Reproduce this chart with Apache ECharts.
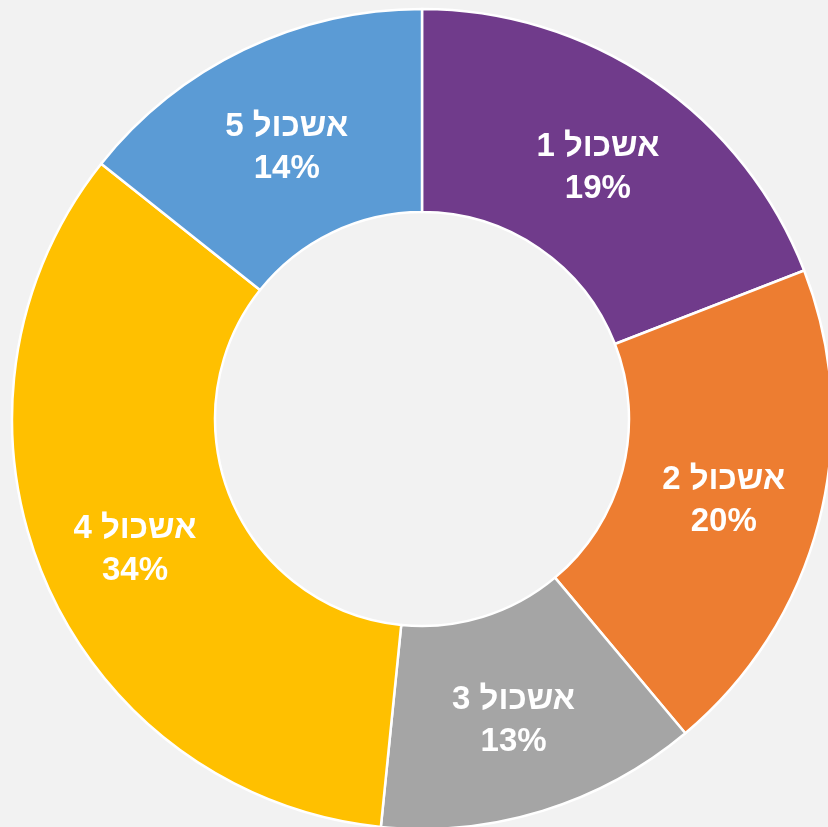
<!DOCTYPE html>
<html dir="rtl">
<head>
<meta charset="utf-8">
<script src="https://cdn.jsdelivr.net/npm/echarts@6/dist/echarts.min.js"></script>
<style>
  html, body { margin: 0; padding: 0; background: #f2f2f2; }
  #main { width: 828px; height: 827px; }
</style>
</head>
<body>
<div id="main"></div>
<script>
// cluster names and their shares (%)
const names = ["אשכול 1", "אשכול 2", "אשכול 3", "אשכול 4", "אשכול 5"];
const values = [19.1, 19.8, 12.7, 34.1, 14.3];
const colors = ["#703b8b", "#ed7d31", "#a5a5a5", "#ffc000", "#5b9bd5"];
const labelShift = [6, 4, 4, 10, 9];

var chartDom = document.getElementById("main");
var myChart = echarts.init(chartDom);
var option = {
  backgroundColor: "#f2f2f2",
  animation: false,
  series: [
    {
      type: "pie",
      center: [422, 419],
      radius: [207, 410],
      startAngle: 90,
      clockwise: true,
      avoidLabelOverlap: false,
      itemStyle: {
        borderColor: "#ffffff",
        borderWidth: 2.5,
      },
      label: {
        show: true,
        position: "inside",
        color: "#ffffff",
        fontFamily: "Liberation Sans, Arial, sans-serif",
        fontWeight: "bold",
        fontSize: 33,
        lineHeight: 42,
        formatter: (p) => p.name + "\n" + Math.round(p.percent) + "%",
      },
      labelLine: { show: false },
      data: names.map((n, i) => ({
        name: n,
        value: values[i],
        itemStyle: { color: colors[i] },
        label: { offset: [0, labelShift[i]] },
      })),
    },
  ],
};
option && myChart.setOption(option);
</script>
</body>
</html>
